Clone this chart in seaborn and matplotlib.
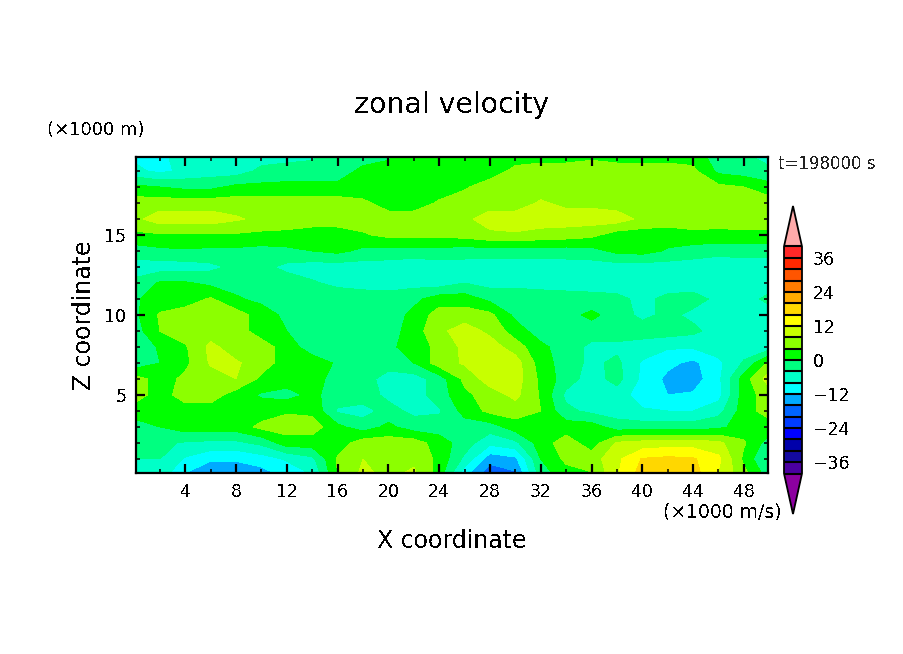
import numpy as np
import matplotlib
matplotlib.use("Agg")
import matplotlib.pyplot as plt
from matplotlib.colors import ListedColormap, BoundaryNorm
from matplotlib.ticker import MultipleLocator
import seaborn as sns

x_km = list(range(0, 51, 2))
z_km = list(range(0, 21))

u_z20 = [-9,-9,-6,-6,-6,-6,-6,-5,-2,-2,-1,2,2,2,2,2,2,2,3,2,2,2,2,-2,-3.5,-6]
u_z19 = [-7,-9,-7,-6,-6,-3,-2,-2,-2,1,2,2,2,2,2,5,6,6,6,6,6,6,5,-1,-2,-3]
u_z18 = [1,0,-1,-1,1,1,1,1,1,1,2,2,2,3.5,6,6,6,6,6,6,6,6,6,5,4,1.5]
u_z17 = [6,6,6,6,6,6,6,6,6,5,2,2,4.5,6,6,6,8.5,7,7,6,6,6,6,6,6,6]
u_z16 = [7,10,10,10,8.5,7,6,6,6,6,6,6,6,7,10,10,10,10,10,10,7,6,6,5.5,6,6]
u_z15 = [3,3.5,3.5,3.5,3.5,3,3,2,2,3.5,5,5,5,5.5,7,7.5,6.5,6,5,2,2,2,3,3,3,3]
u_z14 = [-2,-1,-0.5,-1,-1,-1.5,-1,0,1,-1,-1.5,-1.5,-1.5,-2,-2,-2,-2,-2,-1.5,1,1.5,-0.5,-2,-3,-2.5,-2.5]
u_z13 = [-6,-6,-6,-5,-3,-3,-5,-6,-6,-6,-6,-7,-6,-6,-6,-6,-6,-6,-6,-6,-6,-6,-6,-6,-6,-6]
u_z12 = [-3,0.5,0.5,-1,-1.5,-2,-2,-3.5,-5,-5.5,-6,-5.5,-6,-4,-5.5,-5,-5.5,-6,-6,-6,-6,-6,-6,-6,-6,-6]
u_z11 = [-0.5,1.5,2,4.5,0.5,-1,-2,-1,-1.5,-2,-2,-1,2,2,-1,-2,-2,-2,-2.5,-3,-5,-3,-2.5,-5,-5.5,-3]
u_z10 = [-1,4.5,6,6,6,2,-1,0,-2,-2,-2,1,6,6,5,-1,-2,-1.5,1,-2,-5,-3,-5,-6,-6,-6]
u_z9 = [-2,4,6,6,6,2,0,-2,-2,-2,-2,2,7,10,7,2,-2,-2,-2,-2,-2,-2,-3,-6,-6,-6]
u_z8 = [-3,0.5,3.5,9,6,6,2,-2,-2.5,-2,-1,2,5,9,10,6,1,-2,-5,-5,-6,-7.5,-7.5,-6,-6,-6]
u_z7 = [-3,0,3,8.5,8.5,6,2,2,-0.5,-2,-2,0,6,8.5,10,10,2,-2,-5,-3,-8.5,-11,-13,-9,-3.5,5]
u_z6 = [6,2,5,6,8,3,2,2,-2,-2,-6,-6,-2,5,10,10,3,-2,-6,-2.5,-9,-13,-14,-9,2,10]
u_z5 = [6,2,6,6,2,-0.5,-1.5,1,-2,-2,-5,-6,-2,3,6,9,3.5,-5,-6,-6,-10,-12,-11.5,-9.5,2,6]
u_z4 = [2,2,2,2,2,2,3.5,3,-4.5,-5.5,-2.5,-5,-4.5,1.5,5,6,4,-3,-5,-6,-7.5,-8,-8,-5.5,2,6]
u_z3 = [-2,0,2,2,2,5,6,6,1,-2,1,-2,-2,-2,-2,2,2,2,2,-2,-2,-2,-2,-1,2,2]
u_z2 = [-3,-3,-4.5,-5,-5,-3,2,2,2,6,6,6,2,-2,-7,-5,2,6,2,8.5,9.5,10,10,9,4.5,-2]
u_z1 = [-4,-4,-8.5,-11.5,-11.5,-10,-7.5,-5,4.5,8,7,7,3,-5,-14.5,-13,0,5,6,11,16.3,17,16.5,13,3,-5]
u_z0 = [-5,-6,-12.5,-15,-15,-14,-11,-8,4,9,7,9,2,-11,-19,-17,-2,2,3.5,11.5,18,19,18,11.5,5.5,-2]

u_rows = [u_z0,u_z1,u_z2,u_z3,u_z4,u_z5,u_z6,u_z7,u_z8,u_z9,u_z10,
          u_z11,u_z12,u_z13,u_z14,u_z15,u_z16,u_z17,u_z18,u_z19,u_z20]

levels = list(range(-40, 41, 4))
band_colors = ["#4b00a0","#140aa0","#0000aa","#0000ff","#003cff","#0064ff",
               "#00aaff","#00ffff","#00ffc8","#00ff80","#00ff00","#8cff00",
               "#c8ff00","#ffff00","#ffd700","#ffaa00","#ff7d00","#ff5500",
               "#ff2800","#ff2828"]
cbar_ticks = [-36,-24,-12,0,12,24,36]
W, H = 904, 654

sns.set_theme(style="white")
plt.rcParams.update({"font.family": "DejaVu Sans", "text.antialiased": False,
                     "axes.unicode_minus": True})

cmap = ListedColormap(band_colors)
cmap.set_over("#ffaaaa")
cmap.set_under("#8c00a0")
norm = BoundaryNorm(levels, cmap.N)

def box(l, t, r, b):
    return [l / W, 1 - b / H, (r - l) / W, (b - t) / H]

fig = plt.figure(figsize=(W / 100, H / 100), dpi=100, facecolor="white")
ax = fig.add_axes(box(136, 157, 768, 473))
cs = ax.contourf(x_km, z_km, np.array(u_rows), levels=levels, cmap=cmap, norm=norm, extend="both")
ax.set_xlim(0.12, 49.9)
ax.set_ylim(0.125, 19.875)
ax.set_axisbelow(False)
ax.xaxis.set_major_locator(MultipleLocator(4))
ax.xaxis.set_minor_locator(MultipleLocator(2))
ax.yaxis.set_major_locator(MultipleLocator(5))
ax.yaxis.set_minor_locator(MultipleLocator(1))
ax.tick_params(which="major", direction="in", length=6.5, width=1.6, top=True, right=True,
               bottom=True, left=True, labelsize=12.5, colors="black", pad=7)
ax.tick_params(which="minor", direction="in", length=3, width=1.1, top=True, right=True,
               bottom=True, left=True, colors="black")
for s in ax.spines.values():
    s.set_linewidth(1.6)
    s.set_color("black")

cax = fig.add_axes(box(784, 206, 802, 514))
cb = fig.colorbar(cs, cax=cax, ticks=cbar_ticks, drawedges=True, extendfrac=40.5 / 227, spacing="uniform")
cb.minorticks_off()
cb.dividers.set_color("black")
cb.dividers.set_linewidth(1.5)
cb.outline.set_edgecolor("black")
cb.outline.set_linewidth(1.3)
cax.tick_params(which="both", length=0, labelsize=12.5, pad=8, colors="black")

fig.text(452 / W, 1 - 105 / H, "zonal velocity", ha="center", va="center", fontsize=20.4, color="black")
fig.text(452 / W, 1 - 541 / H, "X coordinate", ha="center", va="center", fontsize=17, color="black")
fig.text(84 / W, 1 - 315 / H, "Z coordinate", ha="center", va="center", rotation=90, fontsize=17, color="black")
fig.text(96 / W, 1 - 130 / H, "(\u00d71000 m)", ha="center", va="center", fontsize=13, color="black")
fig.text(722 / W, 1 - 512 / H, "(\u00d71000 m/s)", ha="center", va="center", fontsize=13.5, color="black")
fig.text(827 / W, 1 - 164 / H, "t=198000 s", ha="center", va="center", fontsize=12, color="#222222")

fig.savefig("out.png", dpi=100, facecolor="white")
